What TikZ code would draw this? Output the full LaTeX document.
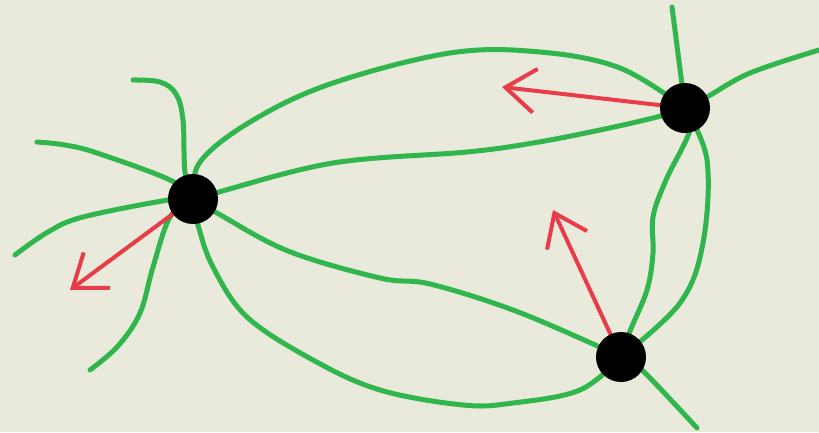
\documentclass[tikz,border=0pt]{standalone}
\usetikzlibrary{arrows.meta}
\definecolor{bgcol}{RGB}{233,234,220}
\definecolor{gline}{RGB}{48,182,76}
\definecolor{rline}{RGB}{232,60,72}
\pgfdeclarelayer{back}
\pgfdeclarelayer{front}
\pgfsetlayers{back,main,front}
\begin{document}
\begin{tikzpicture}[x=1pt,y=-1pt,
  edge/.style={draw=gline, line width=5pt, line cap=round, line join=round},
  force/.style={draw=rline, line width=4pt, line cap=round, line join=round,
    -{Straight Barb[length=30pt,width=44pt]}},
  blob/.style={circle, fill=black, minimum size=50pt, inner sep=0pt}]
\begin{pgfonlayer}{back}
  \fill[bgcol] (0,0) rectangle (819,432);
\end{pgfonlayer}
\useasboundingbox (0,0) rectangle (819,432);
\begin{pgfonlayer}{front}
  \node[blob] (A) at (193,199) {};
  \node[blob] (B) at (685,108) {};
  \node[blob] (C) at (621,357) {};
\end{pgfonlayer}
% free ends
\coordinate (a1) at (133,80);
\coordinate (a2) at (37,142);
\coordinate (a3) at (15,255);
\coordinate (a4) at (90,370);
\coordinate (b1) at (672,7);
\coordinate (b2) at (819,50);
\coordinate (c1) at (697,428);
\coordinate (tA) at (70,290);
\coordinate (tB) at (502,87);
\coordinate (tC) at (553,210);
% stray green lines
\draw[edge] plot[smooth,tension=0.6] coordinates {(A.center) (185,172) (183,120) (176,94) (160,82) (a1)};
\draw[edge] plot[smooth,tension=0.6] coordinates {(A.center) (170,180) (97,153) (65,145) (a2)};
\draw[edge] plot[smooth,tension=0.6] coordinates {(A.center) (168,200) (83,217) (48,232) (a3)};
\draw[edge] plot[smooth,tension=0.6] coordinates {(A.center) (170,217) (153,267) (140,313) (118,346) (a4)};
\draw[edge] (B.center) -- (b1);
\draw[edge] plot[smooth,tension=0.6] coordinates {(B.center) (707,97) (750,73) (b2)};
\draw[edge] plot[smooth,tension=0.6] coordinates {(C.center) (640,368) (c1)};
% connectors
\draw[edge] plot[smooth,tension=0.6] coordinates {(A.center) (200,162) (250,122) (330,84) (450,53) (540,52) (620,68) (B.center)};
\draw[edge] plot[smooth,tension=0.6] coordinates {(A.center) (215,193) (333,163) (467,152) (533,143) (600,130) (657,117) (B.center)};
\draw[edge] plot[smooth,tension=0.6] coordinates {(A.center) (217,213) (288,251) (380,278) (430,284) (513,310) (600,347) (C.center)};
\draw[edge] plot[smooth,tension=0.6] coordinates {(A.center) (198,225) (213,267) (247,317) (313,360) (380,390) (463,405) (513,403) (580,390) (C.center)};
\draw[edge] plot[smooth,tension=0.6] coordinates {(B.center) (690,130) (666,180) (653,217) (653,253) (647,290) (630,331) (C.center)};
\draw[edge] plot[smooth,tension=0.6] coordinates {(B.center) (707,160) (703,243) (680,303) (C.center)};
% red arrows
\draw[force] (A) -- (tA);
\draw[force] (B) -- (tB);
\draw[force] (C) -- (tC);
\end{tikzpicture}
\end{document}
